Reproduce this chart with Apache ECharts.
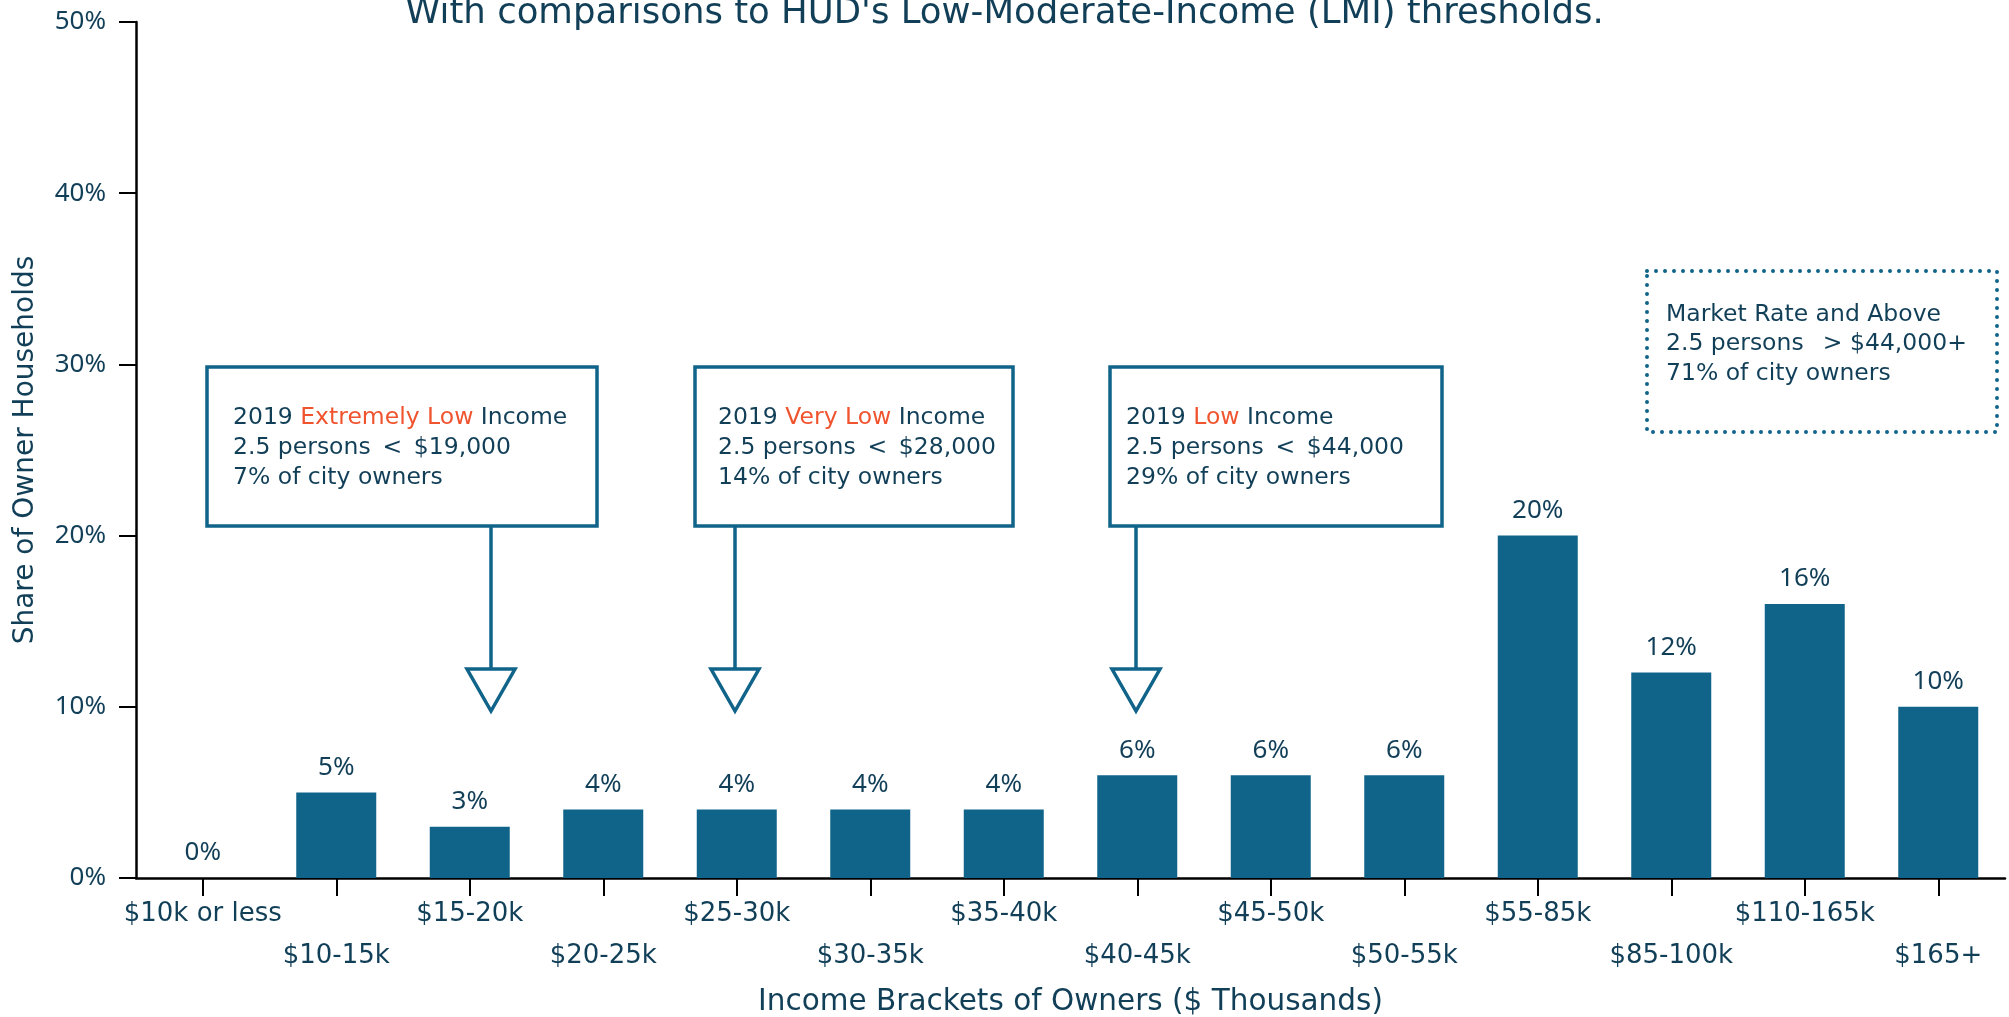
<!DOCTYPE html>
<html>
<head>
<meta charset="utf-8">
<script src="https://cdn.jsdelivr.net/npm/echarts@6/dist/echarts.min.js"></script>
<style>
html, body { margin: 0; padding: 0; background: #fff; }
#chart { width: 2009px; height: 1017px; }
</style>
</head>
<body>
<div id="chart"></div>
<script>
// income brackets and share of owner households (%)
var categories = ['$10k or less', '$10-15k', '$15-20k', '$20-25k', '$25-30k', '$30-35k', '$35-40k',
    '$40-45k', '$45-50k', '$50-55k', '$55-85k', '$85-100k', '$110-165k', '$165+'];
var shares = [0, 5, 3, 4, 4, 4, 4, 6, 6, 6, 20, 12, 16, 10];

// HUD LMI thresholds (annotation boxes)
var lmiCats = ['$15-20k', '$25-30k', '$40-45k'];
var lmiShift = [0.16, -0.01, -0.01];   // where the arrow sits inside the bracket
var lmiLevels = ['Extremely Low', 'Very Low', 'Low'];
var lmiLimits = ['$19,000', '$28,000', '$44,000'];
var lmiShares = ['7%', '14%', '29%'];
var marketLines = ['Market Rate and Above', '2.5 persons \u2002> $44,000+', '71% of city owners'];

var navy = '#123f58';
var blue = '#10648a';
var red = '#f0542f';
var boxFont = 'DejaVu Sans';
var numFont = 'Noto Sans';

var chart = echarts.init(document.getElementById('chart'));

var option = {
    animation: false,
    backgroundColor: '#fff',
    title: {
        text: "With comparisons to HUD's Low-Moderate-Income (LMI) thresholds.",
        left: 'center',
        top: -9,
        textStyle: { fontFamily: boxFont, fontSize: 35.5, fontWeight: 'normal', color: navy }
    },
    grid: { left: 136, right: 4, top: 22, bottom: 139, containLabel: false, outerBoundsMode: 'none' },
    xAxis: {
        type: 'category',
        data: categories,
        boundaryGap: true,
        axisLine: { show: true, lineStyle: { color: '#000', width: 2.5 } },
        axisTick: { show: true, alignWithLabel: true, length: 18, lineStyle: { color: '#000', width: 2 } },
        axisLabel: {
            interval: 0,
            margin: 15,
            fontFamily: boxFont,
            fontSize: 26,
            lineHeight: 42,
            color: navy,
            formatter: function (v, i) { return i % 2 ? '\n' + v : v; }
        },
        name: 'Income Brackets of Owners ($ Thousands)',
        nameLocation: 'middle',
        nameGap: 109,
        nameTextStyle: { fontFamily: boxFont, fontSize: 29.5, color: navy }
    },
    yAxis: {
        type: 'value',
        min: 0,
        max: 50,
        interval: 10,
        axisLine: { show: true, lineStyle: { color: '#000', width: 2.5 } },
        axisTick: { show: true, length: 17, lineStyle: { color: '#000', width: 2 } },
        splitLine: { show: false },
        axisLabel: { margin: 30, formatter: '{value}%', fontFamily: numFont, fontSize: 26, color: navy },
        name: 'Share of Owner Households',
        nameLocation: 'middle',
        nameGap: 96,
        nameTextStyle: { fontFamily: boxFont, fontSize: 28, color: navy }
    },
    series: [{
        type: 'bar',
        data: shares,
        barWidth: 80,
        itemStyle: { color: blue },
        label: {
            show: true,
            position: 'top',
            distance: 12,
            formatter: '{c}%',
            fontFamily: numFont,
            fontSize: 26,
            color: navy
        }
    }]
};
chart.setOption(option);

// annotation boxes anchored to the bracket they point at
var x0 = chart.convertToPixel({ xAxisIndex: 0 }, categories[0]);
var band = chart.convertToPixel({ xAxisIndex: 0 }, categories[1]) - x0;
var boxTop = 367, boxBottom = 526, triTop = 669, triTip = 711;
var boxSpan = [[-284, 106, 26], [-40, 278, 23], [-26, 306, 16]]; // left, right, text inset
var txt = { fontFamily: boxFont, fontSize: 23.5, lineHeight: 30 };
var elements = [];

lmiCats.forEach(function (c, i) {
    var ax = Math.round(chart.convertToPixel({ xAxisIndex: 0 }, c) + lmiShift[i] * band);
    var s = boxSpan[i];
    elements.push({
        type: 'rect',
        shape: { x: ax + s[0], y: boxTop, width: s[1] - s[0], height: boxBottom - boxTop },
        style: { fill: '#fff', stroke: blue, lineWidth: 3.5 }
    });
    elements.push({
        type: 'line',
        shape: { x1: ax, y1: boxBottom, x2: ax, y2: triTop },
        style: { stroke: blue, lineWidth: 3.5 }
    });
    elements.push({
        type: 'polygon',
        shape: { points: [[ax - 24, triTop], [ax + 24, triTop], [ax, triTip]] },
        style: { fill: '#fff', stroke: blue, lineWidth: 3.5 }
    });
    elements.push({
        type: 'text',
        x: ax + s[0] + s[2],
        y: boxTop + 36,
        style: {
            text: '2019 {r|' + lmiLevels[i] + '} Income\n2.5 persons\u2002<\u2002' + lmiLimits[i] + '\n' + lmiShares[i] + ' of city owners',
            fill: navy,
            fontFamily: txt.fontFamily,
            fontSize: txt.fontSize,
            lineHeight: txt.lineHeight,
            verticalAlign: 'top',
            rich: { r: { fill: red, fontFamily: txt.fontFamily, fontSize: txt.fontSize, lineHeight: txt.lineHeight } }
        }
    });
});

// market rate box (dotted)
elements.push({
    type: 'rect',
    shape: { x: 1647, y: 271, width: 350, height: 161 },
    style: { fill: 'none', stroke: blue, lineWidth: 4, lineDash: [0, 9], lineCap: 'round' }
});
elements.push({
    type: 'text',
    x: 1666,
    y: 271 + 29,
    style: {
        text: marketLines.join('\n'),
        fill: navy,
        fontFamily: txt.fontFamily,
        fontSize: txt.fontSize,
        lineHeight: 29.5,
        verticalAlign: 'top'
    }
});

chart.setOption({ graphic: { elements: elements } });
</script>
</body>
</html>
